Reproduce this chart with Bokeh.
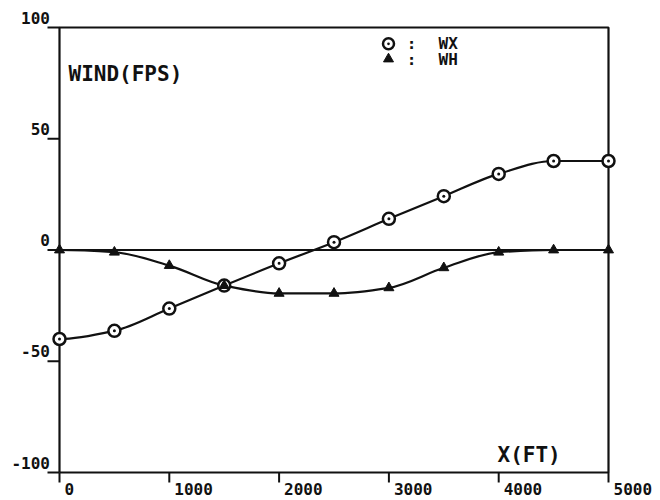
from bokeh.plotting import figure
from bokeh.models import Range1d
from bokeh.core.properties import value
from bokeh.embed import file_html
from bokeh.resources import INLINE

# ---- data ----
x_ft = [0, 500, 1000, 1500, 2000, 2500, 3000, 3500, 4000, 4500, 5000]
wx = [-40.0, -36.3, -26.3, -16.0, -6.0, 3.5, 14.0, 24.2, 34.2, 40.0, 40.0]
wh = [0.0, -1.0, -7.0, -16.0, -19.5, -19.5, -17.0, -8.0, -1.0, 0.0, 0.0]

x_ticks = [0, 1000, 2000, 3000, 4000, 5000]
x_tick_labels = ["0", "1000", "2000", "3000", "4000", "5000"]
y_ticks = [-100, -50, 0, 50, 100]
y_tick_labels = ["-100", "-50", "0", "50", "100"]
x_label = "X(FT)"
y_label = "WIND(FPS)"
legend_labels = ["WX", "WH"]

# ---- layout (canvas pixels) ----
W, H = 660, 500
FL, FR, FT, FB = 59, 608, 27, 472
XMIN, XMAX = 0, 5000
YMIN, YMAX = -100, 100
sx = (XMAX - XMIN) / (FR - FL)
sy = (YMAX - YMIN) / (FB - FT)


def px_x(px):
    return XMIN + (px - FL) * sx


def px_y(py):
    return YMAX - (py - FT) * sy


FONT = value("DejaVu Sans Mono")
INK = "#111111"

p = figure(width=W, height=H, output_backend="svg", toolbar_location=None,
           x_range=Range1d(XMIN - FL * sx, XMAX + (W - FR) * sx),
           y_range=Range1d(YMIN - (H - FB) * sy, YMAX + FT * sy),
           x_axis_location=None, y_axis_location=None, min_border=0)
p.grid.visible = False
p.outline_line_color = None
p.background_fill_color = "white"
p.border_fill_color = "white"

# frame
p.line([XMIN, XMAX, XMAX, XMIN, XMIN], [YMIN, YMIN, YMAX, YMAX, YMIN],
       line_color=INK, line_width=2.2)
# ticks
p.segment(x0=[XMIN - 12 * sx] * len(y_ticks), y0=y_ticks, x1=[XMIN] * len(y_ticks), y1=y_ticks,
          line_color=INK, line_width=2)
p.segment(x0=x_ticks, y0=[YMIN] * len(x_ticks), x1=x_ticks, y1=[YMIN - 10 * sy] * len(x_ticks),
          line_color=INK, line_width=2)
# zero line
p.segment(x0=[XMIN], y0=[0], x1=[XMAX], y1=[0], line_color=INK, line_width=1.8)

# tick labels
p.text(x=[XMIN] * len(y_ticks), y=y_ticks, text=y_tick_labels, x_offset=-9.5, y_offset=-10,
       text_align="right", text_baseline="middle", text_font=FONT, text_font_style="bold",
       text_font_size="16px", text_color=INK)
p.text(x=x_ticks, y=[YMIN] * len(x_ticks), text=x_tick_labels, x_offset=5, y_offset=16,
       text_align="left", text_baseline="middle", text_font=FONT, text_font_style="bold",
       text_font_size="16px", text_color=INK)

# axis titles
p.text(x=[px_x(68)], y=[px_y(73)], text=[y_label], text_align="left", text_baseline="middle",
       text_font=FONT, text_font_style="bold", text_font_size="21px", text_color=INK)
p.text(x=[px_x(497)], y=[px_y(454)], text=[x_label], text_align="left", text_baseline="middle",
       text_font=FONT, text_font_style="bold", text_font_size="21px", text_color=INK)


# smooth curves through the points (monotone cubic Hermite -> Bezier)
def bezier_parts(xs, ys):
    n = len(xs)
    d = [(ys[i + 1] - ys[i]) / (xs[i + 1] - xs[i]) for i in range(n - 1)]
    m = [0.0] * n
    for i in range(1, n - 1):
        if d[i - 1] * d[i] > 0:
            m[i] = 2.0 / (1.0 / d[i - 1] + 1.0 / d[i])
    x0, y0, x1, y1, cx0, cy0, cx1, cy1 = [], [], [], [], [], [], [], []
    for i in range(n - 1):
        h = xs[i + 1] - xs[i]
        x0.append(xs[i]); y0.append(ys[i])
        x1.append(xs[i + 1]); y1.append(ys[i + 1])
        cx0.append(xs[i] + h / 3); cy0.append(ys[i] + m[i] * h / 3)
        cx1.append(xs[i + 1] - h / 3); cy1.append(ys[i + 1] - m[i + 1] * h / 3)
    return dict(x0=x0, y0=y0, x1=x1, y1=y1, cx0=cx0, cy0=cy0, cx1=cx1, cy1=cy1)


for series in (wx, wh):
    b = bezier_parts(x_ft, series)
    p.bezier(x0=b["x0"], y0=b["y0"], x1=b["x1"], y1=b["y1"],
             cx0=b["cx0"], cy0=b["cy0"], cx1=b["cx1"], cy1=b["cy1"],
             line_color=INK, line_width=2.2)

p.scatter(x_ft, wx, marker="circle_dot", size=12, line_width=2.5,
          line_color=INK, fill_color="white")
p.scatter(x_ft, wh, marker="triangle", size=10, line_color=INK, fill_color=INK)

# legend
rows = [px_y(43.3), px_y(58.5)]
p.scatter([px_x(388)], [rows[0]], marker="circle_dot", size=11, line_width=2.5,
          line_color=INK, fill_color="white")
p.scatter([px_x(388)], [rows[1]], marker="triangle", size=10, line_color=INK, fill_color=INK)
p.text(x=[px_x(411)] * 2, y=rows, text=[":", ":"], text_align="center", text_baseline="middle",
       text_font=FONT, text_font_style="bold", text_font_size="16px", text_color=INK)
p.text(x=[px_x(438)] * 2, y=rows, text=legend_labels, text_align="left", text_baseline="middle",
       text_font=FONT, text_font_style="bold", text_font_size="16px", text_color=INK)

open("out.html", "w").write(file_html(p, INLINE))
